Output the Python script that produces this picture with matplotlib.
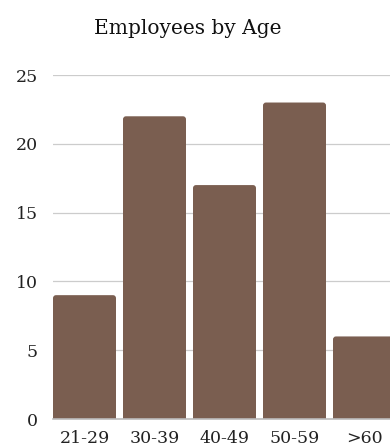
import matplotlib.pyplot as plt
from matplotlib.patches import FancyBboxPatch

# employee counts per age group
ages = ['21-29', '30-39', '40-49', '50-59', '>60']
counts = [9, 22, 17, 23, 6]
yticks = [0, 5, 10, 15, 20, 25]

bar_color = '#7a5e50'
plt.rcParams['font.family'] = ['DejaVu Serif']

fig = plt.figure(figsize=(3.9, 4.46), dpi=100)
# axes runs past the right edge so the last bar gets cut off
ax = fig.add_axes([53/390, 27/446, 350/390, 344/446])

x = range(len(ages))
bars = ax.bar(x, counts, width=0.9, color=bar_color, zorder=2)
ax.set_xlim(-0.45, len(ages) - 0.45)
ax.set_ylim(0, 25)

# swap the plain rectangles for ones with rounded corners
rx = 3 / 70.0
ry = 3 / (344 / 25.0)
for b in bars:
    b.set_visible(False)
    p = FancyBboxPatch((b.get_x(), -1), b.get_width(), b.get_height() + 1,
                       boxstyle='round,pad=0,rounding_size=%f' % rx,
                       mutation_aspect=ry / rx, facecolor=bar_color,
                       edgecolor='none', zorder=2)
    ax.add_patch(p)

ax.set_yticks(yticks)
ax.set_xticks(list(x))
ax.set_xticklabels(ages)

ax.grid(axis='y', color='#cccccc', linewidth=0.9, zorder=0)
for s in ['top', 'right', 'left']:
    ax.spines[s].set_visible(False)
ax.spines['bottom'].set_color('#bbbbbb')
ax.spines['bottom'].set_linewidth(1.2)
ax.spines['bottom'].set_zorder(3)
ax.tick_params(axis='both', length=0, labelsize=12.5, colors='#222222')
ax.tick_params(axis='y', pad=11)
ax.tick_params(axis='x', pad=8)

fig.text(188/390, 1 - 29/446, 'Employees by Age', ha='center', va='center',
         fontsize=14.5, color='#111111')

fig.savefig('out.png', dpi=100)
